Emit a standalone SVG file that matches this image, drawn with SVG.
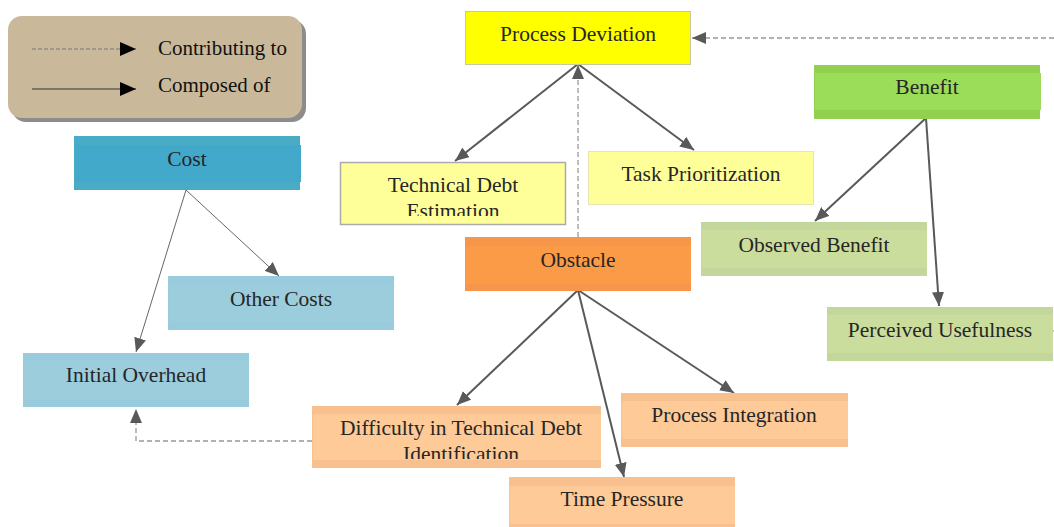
<svg xmlns="http://www.w3.org/2000/svg" width="1054" height="527" viewBox="0 0 1054 527">
  <style>
    text { font-family: "Liberation Serif", "Times New Roman", serif; font-size: 21.5px; fill: #262626; text-anchor: middle; }
    .legend text { text-anchor: start; fill: #111; font-size: 21px; }
    .solid { stroke: #595959; stroke-width: 2; fill: none; }
    .thin { stroke: #666; stroke-width: 1; fill: none; }
    .dash { stroke: #999; stroke-width: 1.3; stroke-dasharray: 5 3; fill: none; }
  </style>
  <defs>
    <marker id="arrow" viewBox="0 0 14 12" refX="14" refY="6" markerWidth="14" markerHeight="12" markerUnits="userSpaceOnUse" orient="auto">
      <path d="M0,0 L14,6 L0,12 z" fill="#595959"/>
    </marker>
    <marker id="arrowBlack" viewBox="0 0 16 14" refX="16" refY="7" markerWidth="16" markerHeight="14" markerUnits="userSpaceOnUse" orient="auto">
      <path d="M0,0 L16,7 L0,14 z" fill="#000"/>
    </marker>
    <clipPath id="clipTDE"><rect x="340" y="162" width="226" height="54"/></clipPath>
    <clipPath id="clipDiff"><rect x="312" y="406" width="289" height="53"/></clipPath>
  </defs>

  <!-- legend -->
  <g id="legend" class="legend">
    <rect x="12" y="20" width="294" height="102" rx="14" fill="#8c8c8c"/>
    <rect x="8" y="16" width="294" height="102" rx="14" fill="#c9b99a"/>
    <line x1="32" y1="49" x2="136" y2="49" stroke="#777" stroke-width="1" stroke-dasharray="4 2" marker-end="url(#arrowBlack)"/>
    <line x1="32" y1="89" x2="136" y2="89" stroke="#333" stroke-width="1" marker-end="url(#arrowBlack)"/>
    <text x="158" y="55">Contributing to</text>
    <text x="158" y="92">Composed of</text>
  </g>

  <!-- connectors -->
  <g id="connectors">
    <line class="solid" x1="578" y1="64" x2="455" y2="161" marker-end="url(#arrow)"/>
    <line class="solid" x1="578" y1="64" x2="694" y2="150" marker-end="url(#arrow)"/>
    <line class="dash" x1="578" y1="237" x2="578" y2="65" marker-end="url(#arrow)"/>
    <line class="dash" x1="1054" y1="38" x2="692" y2="38" marker-end="url(#arrow)"/>
    <line class="solid" x1="926" y1="118" x2="815" y2="221" marker-end="url(#arrow)"/>
    <line class="solid" x1="926" y1="118" x2="939" y2="306" marker-end="url(#arrow)"/>
    <line class="thin" x1="186" y1="190" x2="279" y2="276" marker-end="url(#arrow)"/>
    <line class="thin" x1="186" y1="190" x2="136" y2="352" marker-end="url(#arrow)"/>
    <line class="solid" x1="578" y1="290" x2="457" y2="405" marker-end="url(#arrow)"/>
    <line class="solid" x1="578" y1="290" x2="734" y2="393" marker-end="url(#arrow)"/>
    <line class="solid" x1="578" y1="290" x2="624" y2="477" marker-end="url(#arrow)"/>
    <polyline class="dash" points="312,441 136,441 136,409" marker-end="url(#arrow)"/>
    <line x1="1049" y1="331" x2="1054" y2="331" stroke="#888" stroke-width="1"/>
  </g>

  <!-- nodes -->
  <g id="process-deviation">
    <rect x="465.5" y="11.5" width="225" height="53" fill="#ffff00" stroke="#c8c8a0" stroke-width="1"/>
    <text x="578" y="41">Process Deviation</text>
  </g>

  <g id="technical-debt-estimation">
    <rect x="340.5" y="162.5" width="225" height="62" fill="#ffff99" stroke="#aaa" stroke-width="1.5"/>
    <g clip-path="url(#clipTDE)">
      <text x="453" y="192">Technical Debt</text>
      <text x="453" y="218">Estimation</text>
    </g>
  </g>

  <g id="task-prioritization">
    <rect x="588.5" y="151.5" width="225" height="53" fill="#ffff99" stroke="#e6e6b4" stroke-width="1"/>
    <text x="701" y="181">Task Prioritization</text>
  </g>

  <g id="obstacle">
    <rect x="465" y="237" width="226" height="54" fill="#f7964a"/>
    <rect x="466" y="246" width="225" height="38" fill="#fb9b47"/>
    <text x="578" y="267">Obstacle</text>
  </g>

  <g id="benefit">
    <rect x="814" y="65" width="226" height="54" fill="#92d050"/>
    <rect x="815" y="73" width="226" height="37" fill="#9bdc58"/>
    <text x="927" y="94">Benefit</text>
  </g>

  <g id="observed-benefit">
    <rect x="701" y="222" width="226" height="54" fill="#c3d69b"/>
    <rect x="702" y="230" width="225" height="38" fill="#cbdd9c"/>
    <text x="814" y="252">Observed Benefit</text>
  </g>

  <g id="perceived-usefulness">
    <rect x="827" y="307" width="226" height="54" fill="#c3d69b"/>
    <rect x="828" y="315" width="225" height="38" fill="#cbdd9c"/>
    <text x="940" y="337">Perceived Usefulness</text>
  </g>

  <g id="cost">
    <rect x="74" y="136" width="226" height="54" fill="#4aabc6"/>
    <rect x="75" y="145" width="226" height="37" fill="#43a9cb"/>
    <text x="187" y="166">Cost</text>
  </g>

  <g id="other-costs">
    <rect x="168" y="276" width="226" height="54" fill="#98cbdc"/>
    <rect x="169" y="284" width="225" height="38" fill="#9bcddd"/>
    <text x="281" y="306">Other Costs</text>
  </g>

  <g id="initial-overhead">
    <rect x="23" y="353" width="226" height="54" fill="#98cbdc"/>
    <rect x="24" y="361" width="225" height="38" fill="#9bcddd"/>
    <text x="136" y="382">Initial Overhead</text>
  </g>

  <g id="difficulty-identification">
    <rect x="312" y="406" width="289" height="62" fill="#f8bf8f"/>
    <rect x="313" y="414" width="288" height="46" fill="#fdca98"/>
    <g clip-path="url(#clipDiff)">
      <text x="461" y="435">Difficulty in Technical Debt</text>
      <text x="461" y="461">Identification</text>
    </g>
  </g>

  <g id="process-integration">
    <rect x="621" y="393" width="227" height="54" fill="#f8bf8f"/>
    <rect x="622" y="401" width="226" height="38" fill="#fdca98"/>
    <text x="734" y="422">Process Integration</text>
  </g>

  <g id="time-pressure">
    <rect x="509" y="477" width="226" height="50" fill="#f8bf8f"/>
    <rect x="510" y="486" width="225" height="38" fill="#fdca98"/>
    <text x="622" y="506">Time Pressure</text>
  </g>
</svg>
